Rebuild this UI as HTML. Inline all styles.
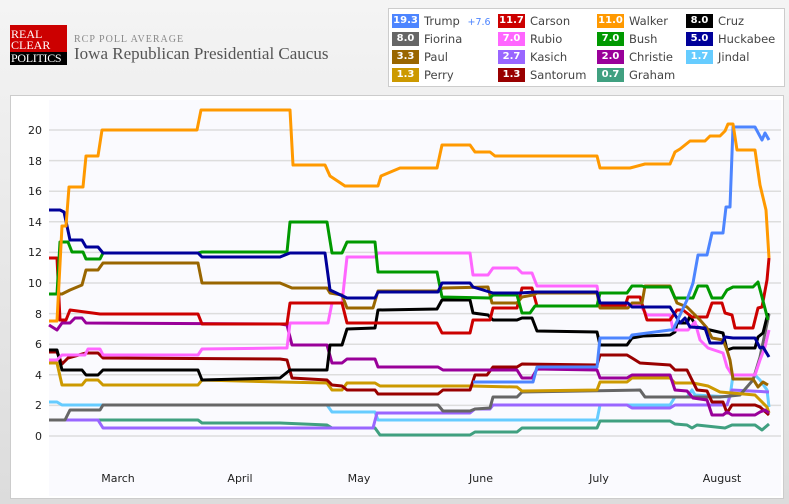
<!DOCTYPE html>
<html><head><meta charset="utf-8"><style>
body{margin:0;width:789px;height:504px;overflow:hidden;background:linear-gradient(#f4f4f4,#dcdcdc);font-family:"DejaVu Sans","Liberation Sans",sans-serif;position:relative}
.logo{position:absolute;left:10px;top:25px;width:57px;height:40px;background:#c00;font-family:"Liberation Serif",serif;font-size:12px;line-height:11px;color:#fff;overflow:hidden}
.logo .k{position:absolute;left:0;top:27px;width:57px;height:13px;background:#000}
.logo span{position:absolute;left:1px;white-space:nowrap}
.t1{position:absolute;left:74px;top:34px;font:10px "Liberation Serif",serif;letter-spacing:1px;color:#888}
.t2{position:absolute;left:74px;top:44px;font:17px "Liberation Serif",serif;color:#555}
.leg{position:absolute;left:388px;top:8px;width:395px;height:77px;background:#fff;border:1px solid #ccc}
.it{position:absolute;font-size:11.5px;color:#444;height:14px;line-height:14px}
.b{display:inline-block;width:27px;height:14px;color:#fff;font-weight:bold;font-size:10px;text-align:center;margin-right:5px;vertical-align:top}
.panel{position:absolute;left:10px;top:95px;width:772px;height:402px;background:#fff;border:1px solid #ccc}
</style></head><body>
<div class="logo"><div class="k"></div><span style="top:4px">REAL</span><span style="top:15px">CLEAR</span><span style="top:28px;letter-spacing:-0.3px">POLITICS</span></div>
<div class="t1">RCP POLL AVERAGE</div>
<div class="t2">Iowa Republican Presidential Caucus</div>
<div class="leg">
<div class="it" style="left:3px;top:5px"><span class="b" style="background:#4d85ff">19.3</span>Trump <span style="color:#4d85ff;font-size:9.5px;margin-left:4px">+7.6</span></div>
<div class="it" style="left:109px;top:5px"><span class="b" style="background:#c00">11.7</span>Carson</div>
<div class="it" style="left:208px;top:5px"><span class="b" style="background:#f90">11.0</span>Walker</div>
<div class="it" style="left:297px;top:5px"><span class="b" style="background:#000">8.0</span>Cruz</div>
<div class="it" style="left:3px;top:23px"><span class="b" style="background:#666">8.0</span>Fiorina</div>
<div class="it" style="left:109px;top:23px"><span class="b" style="background:#f6f">7.0</span>Rubio</div>
<div class="it" style="left:208px;top:23px"><span class="b" style="background:#090">7.0</span>Bush</div>
<div class="it" style="left:297px;top:23px"><span class="b" style="background:#009">5.0</span>Huckabee</div>
<div class="it" style="left:3px;top:41px"><span class="b" style="background:#960">3.3</span>Paul</div>
<div class="it" style="left:109px;top:41px"><span class="b" style="background:#96f">2.7</span>Kasich</div>
<div class="it" style="left:208px;top:41px"><span class="b" style="background:#909">2.0</span>Christie</div>
<div class="it" style="left:297px;top:41px"><span class="b" style="background:#6cf">1.7</span>Jindal</div>
<div class="it" style="left:3px;top:59px"><span class="b" style="background:#c90">1.3</span>Perry</div>
<div class="it" style="left:109px;top:59px"><span class="b" style="background:#900">1.3</span>Santorum</div>
<div class="it" style="left:208px;top:59px"><span class="b" style="background:#40a080">0.7</span>Graham</div>
</div>
<div class="panel"></div>
<svg style="position:absolute;left:0;top:0" width="789" height="504">
<rect x="49" y="100" width="732" height="396" fill="#fafafe"/>
<g stroke="#ddd" stroke-width="1.5">
<line x1="49" x2="781" y1="436" y2="436"/><line x1="49" x2="781" y1="405.4" y2="405.4"/><line x1="49" x2="781" y1="374.8" y2="374.8"/><line x1="49" x2="781" y1="344.2" y2="344.2"/><line x1="49" x2="781" y1="313.6" y2="313.6"/><line x1="49" x2="781" y1="283" y2="283"/><line x1="49" x2="781" y1="252.4" y2="252.4"/><line x1="49" x2="781" y1="221.8" y2="221.8"/><line x1="49" x2="781" y1="191.2" y2="191.2"/><line x1="49" x2="781" y1="160.6" y2="160.6"/><line x1="49" x2="781" y1="130" y2="130"/></g>
<g font-size="11" fill="#222" text-anchor="end">
<text x="42" y="440">0</text><text x="42" y="409">2</text><text x="42" y="379">4</text><text x="42" y="348">6</text><text x="42" y="318">8</text><text x="42" y="287">10</text><text x="42" y="256">12</text><text x="42" y="226">14</text><text x="42" y="195">16</text><text x="42" y="165">18</text><text x="42" y="134">20</text></g>
<g font-size="11" fill="#222" text-anchor="middle">
<text x="118" y="482">March</text><text x="240" y="482">April</text><text x="359" y="482">May</text><text x="481" y="482">June</text><text x="599" y="482">July</text><text x="722" y="482">August</text></g>
<g fill="none" stroke-width="3" stroke-linejoin="round">
<polyline stroke="#40a080" points="49,420 198,420 202,423 280,423 327,425 332,428 375,428 380,435 470,435 475,432 517,432 522,428 597,428 600,421 670,421 675,424 687,425 692,428 697,425 725,428 732,425 755,425 762,430 769,424"/>
<polyline stroke="#6cf" points="49,402 57,402 62,405 327,405 332,412 375,412 378,420 597,420 600,405 670,405 675,397 687,397 692,390 695,395 730,397 733,375 755,375 760,380 767,390 769,407"/>
<polyline stroke="#96f" points="49,420 98,420 103,428 373,428 377,413 470,413 475,409 490,409 493,405 627,405 632,408 670,408 675,405 727,405 732,390 769,392"/>
<polyline stroke="#666" points="49,420 65,420 70,410 100,410 103,405 438,405 443,411 470,411 475,409 490,408 493,397 517,397 522,392 640,390 645,397 670,397 720,397 740,395 753,380 760,357 769,314"/>
<polyline stroke="#c90" points="49,363 57,363 62,385 82,385 86,380 98,380 103,385 198,385 202,380 280,382 327,383 332,390 342,390 347,383 375,383 380,386 470,386 517,387 522,391 597,390 600,382 627,382 632,378 670,378 675,383 693,383 708,386 720,392 755,395 760,400 767,407 769,413"/>
<polyline stroke="#900" points="49,352 57,352 62,364 68,358 86,353 98,353 103,358 280,359 287,360 292,378 327,380 332,385 342,386 347,390 375,390 378,394 438,394 443,390 470,390 475,375 487,375 493,367 517,367 522,364 597,365 600,355 627,355 632,358 640,363 670,365 675,370 687,370 692,380 697,390 707,391 712,402 723,402 727,413 732,405 755,405 760,407 769,415"/>
<polyline stroke="#909" points="49,325 57,330 62,323 70,323 75,318 82,318 86,323 280,324 287,325 292,345 327,345 332,363 342,363 347,359 375,359 378,367 438,367 443,370 517,370 522,378 532,378 537,369 597,370 600,378 627,378 632,375 670,375 675,390 687,391 693,398 707,400 712,415 723,415 727,412 732,415 755,415 760,412 765,410 769,413"/>
<polyline stroke="#000" points="49,350 57,350 62,370 82,370 86,375 98,375 103,370 198,370 202,380 280,378 290,370 327,370 330,345 342,345 347,329 375,328 378,310 437,309 442,300 470,300 473,313 488,315 493,320 517,320 522,318 532,318 537,331 597,332 600,345 627,345 632,338 643,336 670,335 675,332 677,323 687,323 690,316 697,327 723,333 727,350 733,348 755,348 758,337 763,333 768,313"/>
<polyline stroke="#f6f" points="49,360 57,360 62,355 85,355 88,349 100,349 103,355 198,355 202,349 280,348 287,348 290,323 328,323 332,303 342,303 347,257 375,257 378,253 470,253 473,275 488,275 493,268 517,268 522,273 532,273 537,286 597,286 600,305 640,305 647,315 670,315 673,330 688,330 695,322 700,340 708,348 723,353 727,367 732,375 755,375 760,360 765,347 769,330"/>
<polyline stroke="#c00" points="49,258 57,258 60,320 66,320 70,310 100,314 198,314 202,324 287,324 290,303 342,303 347,323 437,323 442,333 470,333 473,320 490,320 493,308 517,308 522,288 532,288 537,306 625,306 628,297 640,297 647,320 670,320 677,310 683,310 692,317 707,317 712,303 722,303 725,313 732,315 735,328 753,328 758,308 762,307 767,280 769,258"/>
<polyline stroke="#960" points="49,294 62,294 70,290 82,285 86,270 98,270 103,263 198,263 202,283 280,283 292,288 327,288 330,293 342,295 347,308 373,308 378,291 438,291 443,288 488,287 492,303 517,303 522,297 533,295 537,293 597,293 600,308 628,308 632,303 642,303 645,286 670,286 677,303 687,307 700,320 707,328 712,338 723,340 727,350 730,360 733,379 753,379 758,387 763,382 768,385"/>
<polyline stroke="#090" points="49,294 57,294 60,242 68,242 72,252 83,252 86,259 100,259 103,253 198,253 202,252 287,252 290,222 327,222 332,253 342,253 347,242 375,242 378,272 437,272 442,297 490,298 493,295 517,295 522,313 530,313 535,306 597,306 600,293 627,293 632,286 642,286 645,287 670,287 675,298 693,298 698,286 707,286 712,298 722,298 727,290 733,287 753,287 758,282 762,297 768,320"/>
<polyline stroke="#009" points="49,210 60,210 64,212 70,240 82,240 86,247 98,247 103,253 198,253 202,257 280,257 290,253 325,253 330,290 347,298 375,298 378,292 438,292 442,283 470,283 473,287 493,293 520,293 535,292 597,292 600,303 628,303 632,307 670,307 677,318 680,323 685,318 690,327 705,328 710,343 722,343 725,337 733,338 755,338 760,348 763,347 769,357"/>
<polyline stroke="#4d85ff" points="473,382 533,382 537,367 597,367 600,338 630,338 632,335 670,330 673,330 687,300 693,283 698,255 707,255 712,233 723,233 726,207 730,207 733,127 755,127 762,140 765,133 769,140"/>
<polyline stroke="#f90" points="49,321 57,321 62,226 66,226 69,187 83,187 86,156 98,156 102,130 197,130 201,110 290,110 293,165 325,165 330,176 345,186 378,186 381,176 400,168 437,168 442,145 470,145 475,152 490,152 495,156 597,156 600,168 630,168 645,164 670,164 675,152 680,149 690,141 705,141 710,136 720,136 725,131 728,124 733,124 737,150 755,150 760,185 766,210 769,258"/>
</g></svg>
</body></html>
